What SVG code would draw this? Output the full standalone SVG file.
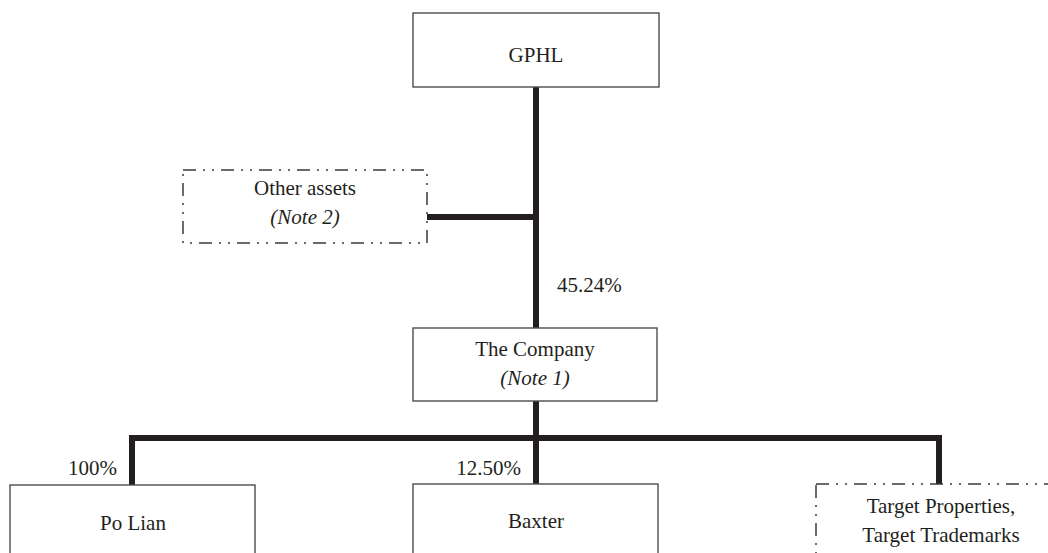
<svg xmlns="http://www.w3.org/2000/svg" width="1048" height="553" viewBox="0 0 1048 553">
<style>
.box{fill:#fff;stroke:#4d4d4d;stroke-width:1.4}
.dd{fill:#fff;stroke:#3a3a3a;stroke-width:1.5;stroke-dasharray:13 7 2 7 2 7}
text{font-family:'Liberation Serif','Times New Roman',Times,serif;font-size:21px;fill:#231f20}
.c{text-anchor:middle}
.i{font-style:italic}
.e{text-anchor:end}
.ln{stroke:#231f20;stroke-width:6;fill:none}
</style>
<rect x="0" y="0" width="1048" height="553" fill="#fff"/>
<g id="connectors">
<line class="ln" x1="536" y1="87" x2="536" y2="328"/>
<line class="ln" x1="427" y1="217" x2="536" y2="217"/>
<line class="ln" x1="536" y1="401" x2="536" y2="484"/>
<polyline class="ln" points="132,485 132,438 939,438 939,484"/>
</g>
<g id="gphl">
<rect class="box" x="413" y="13" width="246" height="74"/>
<text class="c" x="536" y="62">GPHL</text>
</g>
<g id="other-assets">
<rect class="dd" x="183" y="170" width="244" height="73"/>
<text class="c" x="305" y="195">Other assets</text>
<text class="c i" x="305" y="224">(Note 2)</text>
</g>
<g id="label-4524">
<text x="557" y="292">45.24%</text>
</g>
<g id="company">
<rect class="box" x="413" y="328" width="244" height="73"/>
<text class="c" x="535" y="356">The Company</text>
<text class="c i" x="535" y="385">(Note 1)</text>
</g>
<g id="po-lian">
<text class="e" x="117" y="475">100%</text>
<rect class="box" x="10" y="485" width="245" height="80"/>
<text class="c" x="133" y="530">Po Lian</text>
</g>
<g id="baxter">
<text class="e" x="521" y="475">12.50%</text>
<rect class="box" x="413" y="484" width="245" height="80"/>
<text class="c" x="536" y="528">Baxter</text>
</g>
<g id="target">
<rect class="dd" x="816" y="484" width="250" height="80"/>
<text class="c" x="941" y="513">Target Properties,</text>
<text class="c" x="941" y="542">Target Trademarks</text>
</g>
</svg>
